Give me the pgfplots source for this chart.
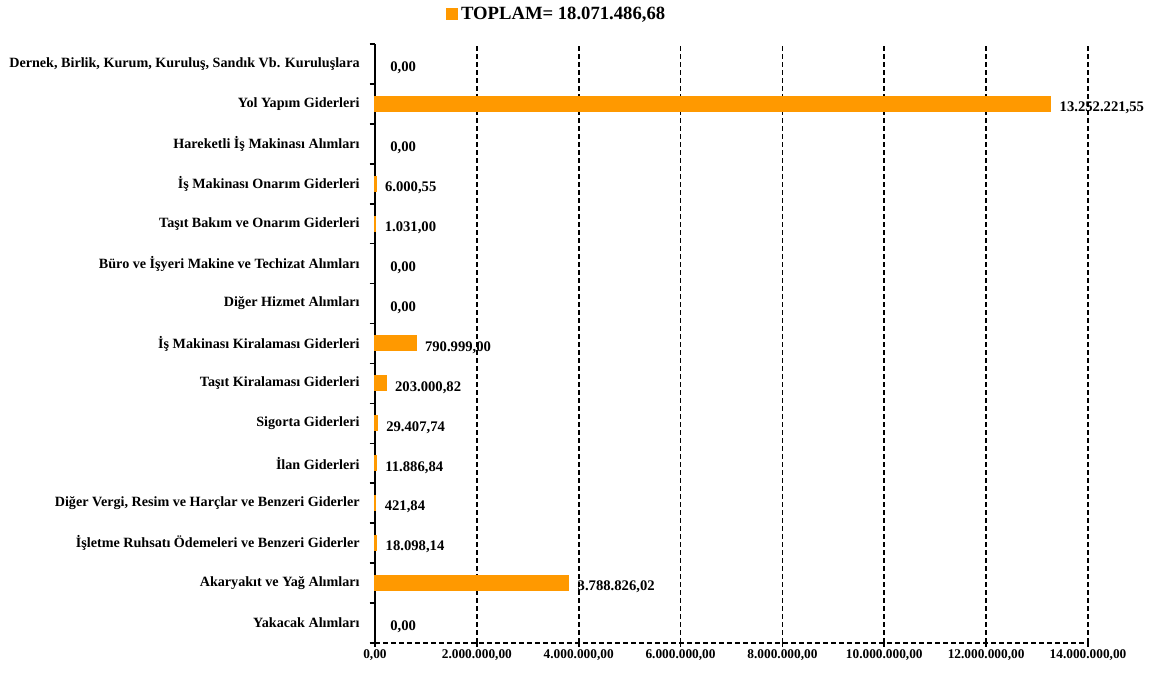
\documentclass[border=0pt]{standalone}
\usepackage{pgfplots}
\pgfplotsset{compat=1.18}
\usepackage{fontspec}
\setmainfont{Liberation Serif}
\definecolor{barorange}{RGB}{255,153,0}

\begin{document}
\begin{tikzpicture}
\useasboundingbox (-281.25pt,-22.5pt) rectangle (588.75pt,482.25pt);
\begin{axis}[
  scale only axis,
  width=534.75pt, height=449.25pt,
  at={(0,0)}, anchor=south west,
  xbar, bar width=10pt,
  xmin=0, xmax=14000000,
  ymin=-0.5, ymax=14.5,
  clip=false,
  scaled x ticks=false,
  axis x line*=bottom, axis y line*=left,
  x axis line style={-, dash pattern=on 4pt off 2pt, line width=1.2pt},
  y axis line style={-, line width=1.5pt},
  xmajorgrids,
  major grid style={dash pattern=on 4pt off 2pt, black, line width=1.2pt},
  xtick={0,2000000,4000000,6000000,8000000,10000000,12000000,14000000},
  xticklabels={{0,00},{2.000.000,00},{4.000.000,00},{6.000.000,00},{8.000.000,00},{10.000.000,00},{12.000.000,00},{14.000.000,00}},
  ytick={0,1,...,14},
  yticklabels={
    {Yakacak Alımları},
    {Akaryakıt ve Yağ Alımları},
    {İşletme Ruhsatı Ödemeleri ve Benzeri Giderler},
    {Diğer Vergi, Resim ve Harçlar ve Benzeri Giderler},
    {İlan Giderleri},
    {Sigorta Giderleri},
    {Taşıt Kiralaması Giderleri},
    {İş Makinası Kiralaması Giderleri},
    {Diğer Hizmet Alımları},
    {Büro ve İşyeri Makine ve Techizat Alımları},
    {Taşıt Bakım ve Onarım Giderleri},
    {İş Makinası Onarım Giderleri},
    {Hareketli İş Makinası Alımları},
    {Yol Yapım Giderleri},
    {Dernek, Birlik, Kurum, Kuruluş, Sandık Vb. Kuruluşlara}},
  minor ytick={-0.5,0.5,1.5,2.5,3.5,4.5,5.5,6.5,7.5,8.5,9.5,10.5,11.5,12.5,13.5,14.5},
  tick align=outside,
  major tick length=3pt,
  minor tick length=4pt,
  major x tick style={black, line width=1.2pt},
  major y tick style={draw=none},
  minor y tick style={black, line width=1.2pt},
  xticklabel style={font=\bfseries\fontsize{10}{12}\selectfont, yshift=1.5pt},
  yticklabel style={font=\bfseries\fontsize{10.6}{12}\selectfont, xshift=-5pt},
  point meta=explicit symbolic,
  nodes near coords,
  every node near coord/.append style={font=\bfseries\fontsize{11}{13}\selectfont, text=black, anchor=west, xshift=3pt, yshift=-3pt},
  legend style={at={(0.255,1.05)}, anchor=center, draw=none, fill=none,
    font=\bfseries\fontsize{14}{16}\selectfont},
]
% non-zero items
\addplot[fill=barorange, draw=barorange, line width=2pt, bar shift=0pt,
  legend image code/.code={\fill[barorange] (0pt,-3.75pt) rectangle (7.5pt,3.75pt);}]
coordinates {
  (3788826.02,1) [3.788.826,02]
  (18098.14,2) [18.098,14]
  (421.84,3) [421,84]
  (11886.84,4) [11.886,84]
  (29407.74,5) [29.407,74]
  (203000.82,6) [203.000,82]
  (790999.00,7) [790.999,00]
  (1031.00,10) [1.031,00]
  (6000.55,11) [6.000,55]
  (13252221.55,13) [13.252.221,55]
};
\addlegendentry{TOPLAM= 18.071.486,68}
% zero items
\addplot[draw=none, fill=none, bar shift=0pt, forget plot,
  every node near coord/.append style={xshift=5pt}]
coordinates {
  (0,0) [0,00]
  (0,8) [0,00]
  (0,9) [0,00]
  (0,12) [0,00]
  (0,14) [0,00]
};
\end{axis}
\end{tikzpicture}
\end{document}
